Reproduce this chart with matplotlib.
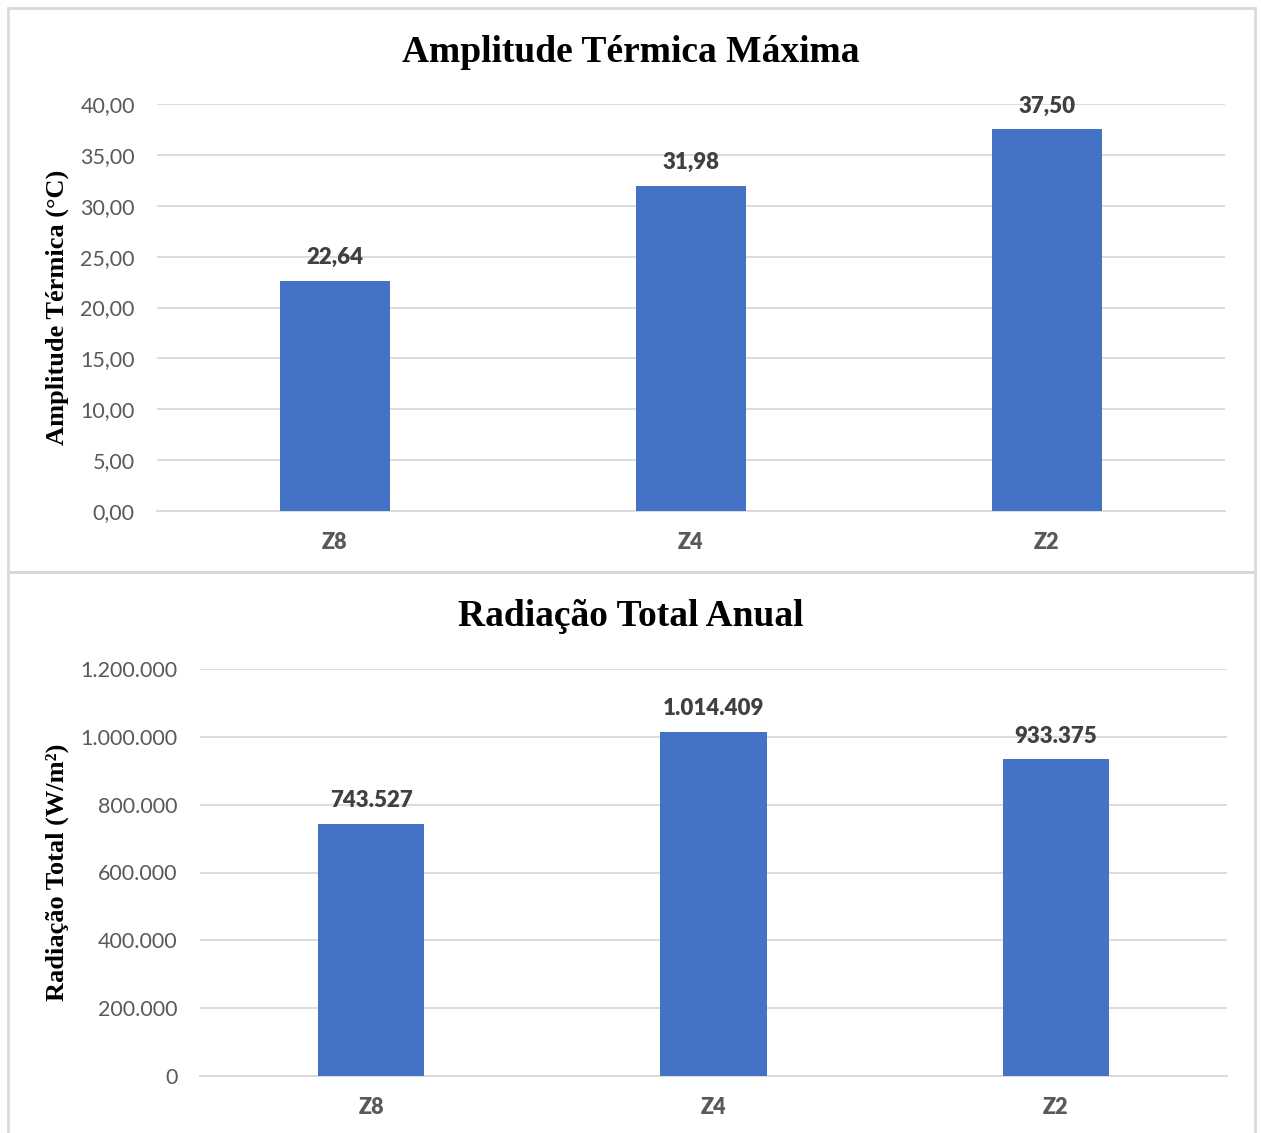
import matplotlib
matplotlib.use("Agg")
import matplotlib.pyplot as plt
from matplotlib.patches import Rectangle

# Data
zones = ["Z8", "Z4", "Z2"]
amplitude = [22.64, 31.98, 37.50]
amp_ticks = [0, 5, 10, 15, 20, 25, 30, 35, 40]
radiation = [743527, 1014409, 933375]
rad_ticks = [0, 200000, 400000, 600000, 800000, 1000000, 1200000]

W, H = 1261, 1133
fig = plt.figure(figsize=(W / 100, H / 100), dpi=100)

BAR = "#4472C4"
GRID = "#D9D9D9"
TICK = "#595959"
LABEL = "#404040"
SANS = ["Lato", "DejaVu Sans"]
SERIF = ["Liberation Serif", "DejaVu Serif"]


def fx(px):
    return px / W


def fy(py):
    return 1 - py / H


# chart frames
for (x0, y0, x1, y1) in [(8, 8, 1255, 572), (8, 572, 1255, 1140)]:
    fig.patches.append(Rectangle((fx(x0), fy(y1)), fx(x1) - fx(x0), fy(y0) - fy(y1),
                                 transform=fig.transFigure, fill=False,
                                 edgecolor="#D9D9D9", linewidth=2, zorder=0))


def fmt_amp(v):
    return f"{v:.2f}".replace(".", ",")


def fmt_rad(v):
    return f"{int(round(v)):,}".replace(",", ".")


def bar_chart(box, values, ticks, ymax, fmt, title, ylabel, title_y, ylab_x):
    x0, y0, x1, y1 = box
    ax = fig.add_axes([fx(x0), fy(y1), fx(x1) - fx(x0), fy(y0) - fy(y1)])
    pos = list(range(len(zones)))
    ax.bar(pos, values, width=0.31, color=BAR, zorder=3)
    ax.set_xlim(-0.5, len(zones) - 0.5)
    ax.set_ylim(0, ymax)
    ax.set_yticks(ticks)
    ax.set_yticklabels([fmt(t) for t in ticks], fontsize=15.5, color=TICK, family=SANS)
    ax.set_xticks(pos)
    ax.set_xticklabels(zones, fontsize=15.5, color=TICK, family=SANS, fontweight="heavy")
    ax.tick_params(length=0)
    ax.tick_params(axis="x", pad=15)
    ax.tick_params(axis="y", pad=16)
    ax.yaxis.grid(True, color=GRID, linewidth=1.3, zorder=0)
    for s in ["top", "right", "left"]:
        ax.spines[s].set_visible(False)
    ax.spines["bottom"].set_color(GRID)
    ax.spines["bottom"].set_linewidth(1.3)
    for p, v in zip(pos, values):
        ax.annotate(fmt(v), (p, v), xytext=(0, 9), textcoords="offset points",
                    ha="center", va="bottom", fontsize=16, fontweight="heavy",
                    color=LABEL, family=SANS)
    fig.text(fx(631), fy(title_y), title, ha="center", va="center",
             fontsize=27, fontweight="bold", family=SERIF, color="black")
    fig.text(fx(ylab_x), (fy(y0) + fy(y1)) / 2, ylabel, ha="center", va="center",
             rotation=90, fontsize=19, fontweight="bold", family=SERIF, color="black")
    return ax


bar_chart((157, 104, 1225, 511), amplitude, amp_ticks, 40, fmt_amp,
          "Amplitude Térmica Máxima", "Amplitude Térmica (°C)", 52, 57)
bar_chart((200, 669, 1227, 1076), radiation, rad_ticks, 1200000, fmt_rad,
          "Radiação Total Anual", "Radiação Total (W/m²)", 617, 57)

fig.savefig("out.png", dpi=100)
